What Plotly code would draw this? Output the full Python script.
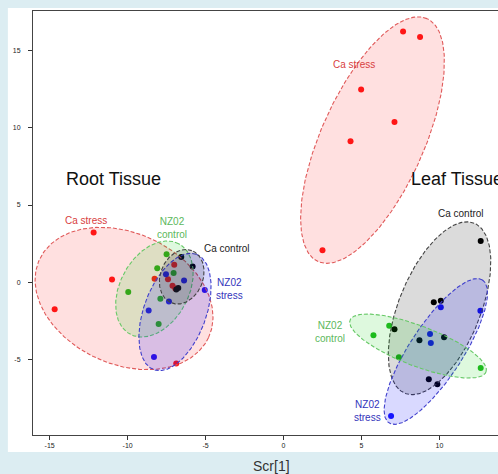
import numpy as np
import plotly.graph_objects as go

# ---------------- data ----------------
# Root tissue scores
root_ca_stress_x = [-12.18, -11.0, -14.68, -8.27, -7.01, -7.41, -7.12, -6.94, -6.88]
root_ca_stress_y = [3.23, 0.19, -1.72, 0.24, 1.14, 0.21, -0.21, -0.39, -5.23]
root_nz_control_x = [-7.5, -8.1, -7.05, -9.96, -7.9, -8.01]
root_nz_control_y = [1.82, 0.92, 0.62, -0.62, -1.05, -2.68]
root_ca_control_x = [-6.56, -5.83, -6.88, -6.75]
root_ca_control_y = [1.65, 1.03, -0.45, -0.35]
root_nz_stress_x = [-7.54, -6.38, -7.35, -5.05, -8.65, -8.31]
root_nz_stress_y = [0.53, 0.13, -1.22, -0.48, -1.8, -4.8]

# Leaf tissue scores
leaf_ca_stress_x = [2.5, 7.67, 8.76, 4.98, 7.12, 4.3]
leaf_ca_stress_y = [2.08, 16.2, 15.84, 12.46, 10.35, 9.11]
leaf_nz_control_x = [6.78, 5.77, 7.4, 12.65]
leaf_nz_control_y = [-2.79, -3.41, -4.82, -5.51]
leaf_ca_control_x = [12.65, 9.64, 10.09, 7.12, 8.72, 10.3, 9.32, 9.87]
leaf_ca_control_y = [2.68, -1.27, -1.18, -3.02, -3.73, -3.54, -6.24, -6.56]
leaf_nz_stress_x = [10.09, 12.63, 9.4, 9.45, 6.9]
leaf_nz_stress_y = [-1.59, -1.82, -3.32, -3.9, -8.62]

# Confidence ellipses: centre, semi-axes, angle (deg)
ell_names = ["root Ca stress", "root NZ02 control", "root NZ02 stress", "root Ca control",
             "leaf Ca stress", "leaf Ca control", "leaf NZ02 stress", "leaf NZ02 control"]
ell_group = ["Ca stress", "NZ02 control", "NZ02 stress", "Ca control",
             "Ca stress", "Ca control", "NZ02 stress", "NZ02 control"]
ell_cx = [-10.23, -8.28, -6.96, -6.53, 5.71, 10.01, 9.77, 8.63]
ell_cy = [-1.03, -0.42, -1.90, 0.37, 9.19, -1.66, -4.45, -4.10]
ell_a = [5.98, 3.31, 3.96, 1.81, 8.58, 5.92, 5.5, 4.67]
ell_b = [4.23, 2.2, 2.0, 1.37, 3.3, 2.62, 1.7, 1.3]
ell_ang = [-25, 62, 70, 69, 66, 68, 57, -21]

x_ticks = [-15, -10, -5, 0, 5, 10]
y_ticks = [-5, 0, 5, 10, 15]

# ---------------- styles ----------------
point_col = {"Ca stress": "#ff1a1a", "NZ02 control": "#22b822",
             "Ca control": "#000000", "NZ02 stress": "#1a1aff"}
fill_col = {"Ca stress": "rgba(255,0,0,0.12)", "NZ02 control": "rgba(0,210,0,0.13)",
            "Ca control": "rgba(0,0,0,0.14)", "NZ02 stress": "rgba(0,0,255,0.15)"}
line_col = {"Ca stress": "#e05a5a", "NZ02 control": "#66c866",
            "Ca control": "#444444", "NZ02 stress": "#4040cc"}
text_col = {"Ca stress": "#d84040", "NZ02 control": "#5cb85c",
            "Ca control": "#222222", "NZ02 stress": "#3333bb"}

fig = go.Figure()

point_sets = [
    ("Ca stress", root_ca_stress_x, root_ca_stress_y),
    ("NZ02 control", root_nz_control_x, root_nz_control_y),
    ("NZ02 stress", root_nz_stress_x, root_nz_stress_y),
    ("Ca control", root_ca_control_x, root_ca_control_y),
    ("Ca stress", leaf_ca_stress_x, leaf_ca_stress_y),
    ("NZ02 control", leaf_nz_control_x, leaf_nz_control_y),
    ("NZ02 stress", leaf_nz_stress_x, leaf_nz_stress_y),
    ("Ca control", leaf_ca_control_x, leaf_ca_control_y),
]
for g, xs, ys in point_sets:
    fig.add_trace(go.Scatter(x=xs, y=ys, mode="markers",
                             marker=dict(size=6, color=point_col[g]),
                             showlegend=False, hoverinfo="skip"))

t = np.linspace(0, 2 * np.pi, 240)
for name, g, cx, cy, a, b, ang in zip(ell_names, ell_group, ell_cx, ell_cy, ell_a, ell_b, ell_ang):
    th = np.deg2rad(ang)
    ex = cx + a * np.cos(t) * np.cos(th) - b * np.sin(t) * np.sin(th)
    ey = cy + a * np.cos(t) * np.sin(th) + b * np.sin(t) * np.cos(th)
    fig.add_trace(go.Scatter(x=ex, y=ey, mode="lines", fill="toself",
                             fillcolor=fill_col[g],
                             line=dict(color=line_col[g], width=1.1, dash="4px,2px"),
                             showlegend=False, hoverinfo="skip", name=name))

# white panel behind the plot
fig.add_shape(type="rect", xref="paper", yref="paper",
              x0=-0.054, x1=1.02, y0=-0.040, y1=1.007,
              fillcolor="white", line=dict(width=0), layer="below")

labels = [
    ("Ca stress", -12.65, 3.99), ("Ca stress", 4.53, 14.08),
    ("NZ02<br>control", -7.13, 3.5), ("NZ02<br>control", 2.99, -3.18),
    ("Ca control", -3.61, 2.19), ("Ca control", 11.36, 4.44),
    ("NZ02<br>stress", -3.45, -0.39), ("NZ02<br>stress", 5.37, -8.3),
]
lab_group = ["Ca stress", "Ca stress", "NZ02 control", "NZ02 control",
             "Ca control", "Ca control", "NZ02 stress", "NZ02 stress"]
for (txt, x, y), g in zip(labels, lab_group):
    fig.add_annotation(x=x, y=y, text=txt, showarrow=False,
                       font=dict(family="Liberation Sans, Arial", size=10, color=text_col[g]),
                       align="center")

fig.add_annotation(x=-10.9, y=6.68, text="Root Tissue", showarrow=False,
                   font=dict(family="Liberation Sans, Arial", size=18, color="#111"))
fig.add_annotation(x=8.05, y=6.68, text="Leaf Tissue", showarrow=False, xanchor="left",
                   font=dict(family="Liberation Sans, Arial", size=18, color="#111"))

fig.add_annotation(x=(271 - 33) / 465, y=-0.073, xref="paper", yref="paper",
                   text="Scr[1]", showarrow=False, yanchor="middle",
                   font=dict(family="Liberation Sans, Arial", size=14, color="#333"))

fig.update_layout(
    width=498, height=474,
    margin=dict(l=33, r=0, t=11, b=39),
    paper_bgcolor="#dcedf2", plot_bgcolor="white",
    showlegend=False,
    xaxis=dict(range=[-16.07, 13.76], tickvals=x_ticks, ticktext=[str(v) for v in x_ticks],
               showgrid=False, zeroline=False, showline=True, linecolor="#444", linewidth=1,
               mirror=True, ticks="outside", ticklen=4, tickcolor="#333",
               tickfont=dict(family="Liberation Sans, Arial", size=7, color="#222")),
    yaxis=dict(range=[-9.84, 17.52], tickvals=y_ticks, ticktext=[str(v) for v in y_ticks],
               showgrid=False, zeroline=False, showline=True, linecolor="#444", linewidth=1,
               ticks="outside", ticklen=4, tickcolor="#333", ticklabelstandoff=6,
               tickfont=dict(family="Liberation Sans, Arial", size=7, color="#222")),
)

fig.write_html("out.html", config={"displayModeBar": False},
               post_script="document.body.style.margin='0';document.body.style.background='#dcedf2';")
